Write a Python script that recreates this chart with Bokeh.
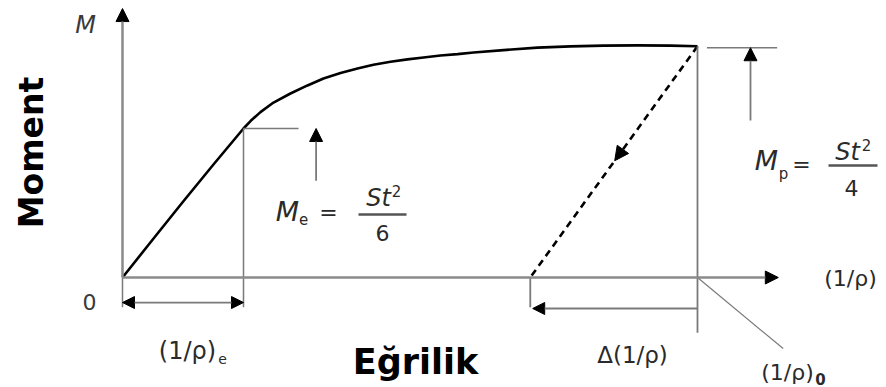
from bokeh.plotting import figure
from bokeh.models import Range1d, Arrow, NormalHead
from bokeh.embed import file_html
from bokeh.resources import INLINE
from bokeh.core.properties import value

# Moment–curvature curve (curvature in units of (1/rho)_e, moment in units of M_e)
curvature = [0.0, 0.25, 0.5, 0.75, 1.0, 1.058, 1.140, 1.248, 1.388, 1.529,
             1.661, 1.802, 1.942, 2.074, 2.215, 2.355, 2.488, 2.628, 2.769,
             2.901, 3.149, 3.430, 3.702, 3.975, 4.256, 4.529, 4.752]
moment = [0.0, 0.255, 0.508, 0.757, 1.0, 1.05, 1.11, 1.174, 1.235, 1.289,
          1.336, 1.372, 1.403, 1.428, 1.448, 1.464, 1.477, 1.490, 1.499,
          1.510, 1.526, 1.543, 1.551, 1.556, 1.558, 1.556, 1.552]

M_e = 1.0             # elastic limit moment, St^2/6
M_p = 1.552           # plastic moment, St^2/4
k_e = 1.0             # curvature at M_e
k_max = 4.752         # curvature at unloading
k_res = 3.37          # residual curvature (1/rho)_0 after unloading

# canvas geometry: one data unit in pixels, origin location
UX, UY = 121.0, 149.0
OX, OY = 122.0, 277.0
W, H = 886, 387

p = figure(width=W, height=H, output_backend="svg", toolbar_location=None,
           x_range=Range1d(-OX / UX, (W - OX) / UX),
           y_range=Range1d(-(H - OY) / UY, OY / UY),
           min_border=0)
p.axis.visible = False
p.grid.visible = False
p.outline_line_color = None
p.background_fill_color = "white"
p.border_fill_color = "white"

GRAY = "#8a8a8a"
THIN = "#7a7a7a"
DARK = "#2a2a2a"


def head(size):
    return NormalHead(size=size, fill_color="black", line_color="black")


# axes with arrow heads
y_top = 1.805
x_end = 5.42
p.add_layout(Arrow(end=head(13), x_start=0, y_start=0, x_end=0, y_end=y_top,
                   line_color=GRAY, line_width=2.5))
p.add_layout(Arrow(end=head(13), x_start=0, y_start=0, x_end=x_end, y_end=0,
                   line_color=GRAY, line_width=2.5))

# loading curve
p.line(curvature, moment, line_color="black", line_width=2.6, line_join="round")

# unloading line
p.line([k_max, k_res], [M_p, 0], line_color="black", line_width=2.6, line_dash="7 5")
dx, dy = k_res - k_max, -M_p
t = 0.495
p.add_layout(Arrow(end=head(14),
                   x_start=k_max + (t - 0.04) * dx, y_start=M_p + (t - 0.04) * dy,
                   x_end=k_max + t * dx, y_end=M_p + t * dy,
                   line_color=None))

# elastic point guides
p.line([k_e, 1.455], [M_e, M_e], line_color=THIN, line_width=1.5)
p.line([k_e, k_e], [M_e, -0.20], line_color=THIN, line_width=1.5)
p.line([0, 0], [0, -0.20], line_color=THIN, line_width=1.5)
p.add_layout(Arrow(start=head(12), end=head(12),
                   x_start=0, y_start=-0.168, x_end=k_e, y_end=-0.168,
                   line_color=THIN, line_width=1.8))
p.add_layout(Arrow(end=head(13), x_start=1.60, y_start=0.65, x_end=1.60, y_end=M_e,
                   line_color=THIN, line_width=1.8))

# plastic point guides
p.line([k_max, k_max], [M_p, -0.37], line_color=THIN, line_width=1.8)
p.line([4.83, 5.41], [M_p - 0.01, M_p - 0.01], line_color=THIN, line_width=1.5)
p.add_layout(Arrow(end=head(13), x_start=5.19, y_start=1.054, x_end=5.19, y_end=M_p - 0.01,
                   line_color=THIN, line_width=1.8))

# residual curvature dimension
p.line([k_res, k_res], [0, -0.20], line_color=THIN, line_width=1.8)
p.add_layout(Arrow(end=head(12),
                   x_start=k_max, y_start=-0.208, x_end=k_res + 0.02, y_end=-0.208,
                   line_color=THIN, line_width=1.8))
p.line([k_max, 5.46], [0, -0.477], line_color=THIN, line_width=1.2)


def px(x):
    return (x - OX) / UX


def py(y):
    return (OY - y) / UY


def label(x, y, s, size, style="normal", color=DARK, font="DejaVu Sans", angle=0.0):
    p.text(x=[px(x)], y=[py(y)], text=[s], text_font=value(font),
           text_font_size=f"{size}px", text_font_style=style, text_color=color,
           text_align="center", text_baseline="middle", angle=angle)


# axis titles
label(31, 152, "Moment", 33, "bold", "black", angle=1.5708)
label(415, 361, "Eğrilik", 35, "bold", "black")

# axis marks
label(85, 24, "M", 24, "italic", "#3a3a3a")
label(89, 301, "0", 22, "normal", "#3a3a3a")
label(850, 278, "(1/ρ)", 22)

label(187, 350, "(1/ρ)", 24)
label(222, 358, "e", 14)
label(632, 354, "Δ(1/ρ)", 23)
label(787, 372, "(1/ρ)", 22)
label(820, 378, "0", 15, "bold")

# elastic moment formula
label(287, 211, "M", 27, "italic")
label(303, 218, "e", 15)
label(328, 212, "=", 22)
label(378, 197, "St", 24, "italic")
label(396, 190, "2", 15)
label(382, 232, "6", 22)
p.line([px(358), px(406)], [py(214), py(214)], line_color="#555555", line_width=2.4)

# plastic moment formula
label(766, 160, "M", 27, "italic")
label(783, 173, "p", 15)
label(801, 164, "=", 22)
label(847, 151, "St", 24, "italic")
label(866, 144, "2", 15)
label(851, 187, "4", 22)
p.line([px(828), px(877)], [py(165), py(165)], line_color="#555555", line_width=2.4)

open("out.html", "w").write(file_html(p, INLINE))
